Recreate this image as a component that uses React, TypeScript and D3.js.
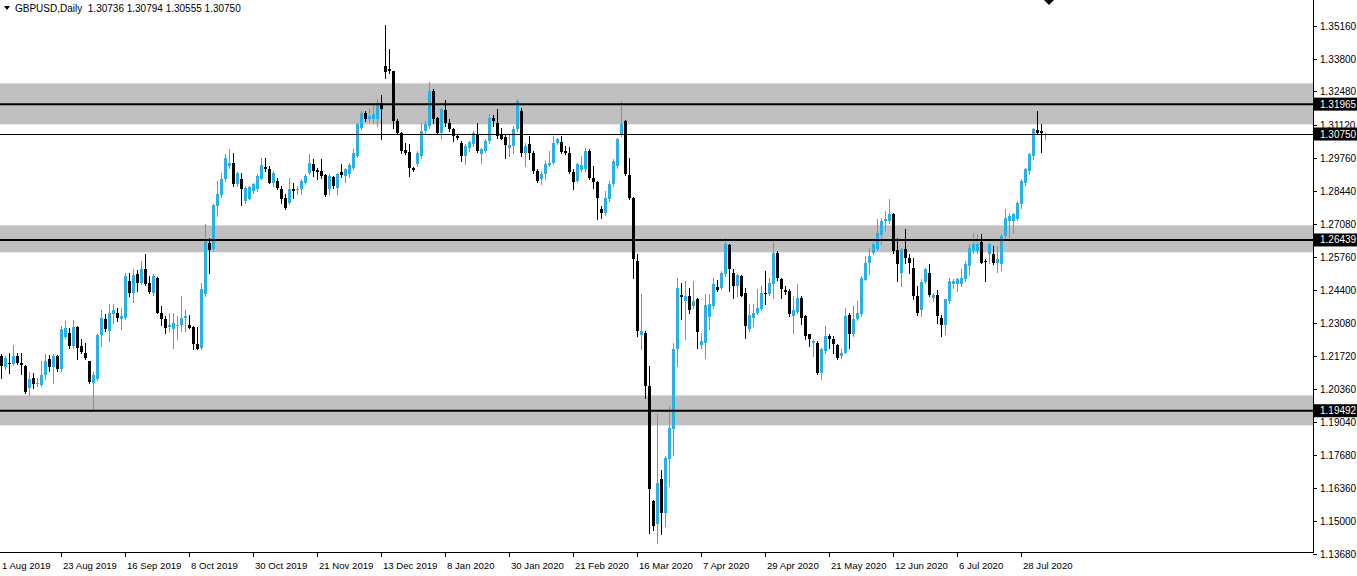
import React from "react";
import * as d3 from "d3";

const WIDTH = 1357;
const HEIGHT = 576;
const PLOT = { RIGHT: 1313, BOTTOM: 552 };
const FONT = "'Liberation Sans', Arial, sans-serif";

const SYMBOL = "GBPUSD,Daily";
const LAST_QUOTE = [1.30736, 1.30794, 1.30555, 1.3075];

const DATE_LABELS = [
  "1 Aug 2019", "23 Aug 2019", "16 Sep 2019", "8 Oct 2019", "30 Oct 2019",
  "21 Nov 2019", "13 Dec 2019", "8 Jan 2020", "30 Jan 2020", "21 Feb 2020",
  "16 Mar 2020", "7 Apr 2020", "29 Apr 2020", "21 May 2020", "12 Jun 2020",
  "6 Jul 2020", "28 Jul 2020",
];
const LABEL_STEP = 16; // bars between date labels

const PRICE_TICKS = [
  1.3516, 1.338, 1.3248, 1.3112, 1.2976, 1.2844, 1.2708, 1.2576, 1.244,
  1.2308, 1.2172, 1.2036, 1.1904, 1.1768, 1.1636, 1.15, 1.1368,
];

// support / resistance zones [low, high]
const ZONES: [number, number][] = [
  [1.31143, 1.32811],
  [1.25935, 1.27033],
  [1.18894, 1.20115],
];
const LEVELS = [1.31965, 1.26439, 1.19492];
const BID = 1.3075;

// daily bars [open, high, low, close], 1 Aug 2019 .. 4 Aug 2020
const CANDLES: [number, number, number, number][] = [
  [1.2172, 1.2180, 1.2083, 1.2131], [1.2128, 1.2172, 1.2117, 1.2165], [1.2144, 1.2185, 1.2104, 1.2138],
  [1.2138, 1.2218, 1.2136, 1.2172], [1.2172, 1.2185, 1.2138, 1.2144], [1.2142, 1.2185, 1.2097, 1.2134],
  [1.2131, 1.2134, 1.2022, 1.2025], [1.2043, 1.2106, 1.2013, 1.2077], [1.2083, 1.2104, 1.2043, 1.2056],
  [1.2056, 1.2083, 1.2050, 1.2063], [1.2052, 1.2151, 1.2050, 1.2093], [1.2093, 1.2178, 1.2077, 1.2150],
  [1.2158, 1.2174, 1.2111, 1.2128], [1.2128, 1.2178, 1.2063, 1.2172], [1.2172, 1.2174, 1.2111, 1.2117],
  [1.2120, 1.2294, 1.2111, 1.2280], [1.2250, 1.2314, 1.2247, 1.2287], [1.2266, 1.2287, 1.2206, 1.2212],
  [1.2212, 1.2317, 1.2206, 1.2290], [1.2290, 1.2294, 1.2158, 1.2206], [1.2212, 1.2239, 1.2185, 1.2188],
  [1.2185, 1.2223, 1.2161, 1.2163], [1.2150, 1.2152, 1.2063, 1.2065], [1.2063, 1.2106, 1.1955, 1.2093],
  [1.2077, 1.2260, 1.2075, 1.2256], [1.2256, 1.2357, 1.2212, 1.2328], [1.2324, 1.2341, 1.2273, 1.2283],
  [1.2273, 1.2385, 1.2233, 1.2345], [1.2341, 1.2382, 1.2307, 1.2361], [1.2345, 1.2368, 1.2314, 1.2328],
  [1.2321, 1.2368, 1.2280, 1.2334], [1.2328, 1.2508, 1.2321, 1.2497], [1.2477, 1.2511, 1.2416, 1.2429],
  [1.2429, 1.2527, 1.2391, 1.2500], [1.2504, 1.2523, 1.2436, 1.2470], [1.2470, 1.2558, 1.2463, 1.2524],
  [1.2524, 1.2585, 1.2461, 1.2463], [1.2470, 1.2497, 1.2429, 1.2432], [1.2429, 1.2504, 1.2422, 1.2497],
  [1.2490, 1.2492, 1.2346, 1.2348], [1.2348, 1.2375, 1.2300, 1.2321], [1.2324, 1.2334, 1.2266, 1.2287],
  [1.2290, 1.2348, 1.2273, 1.2300], [1.2280, 1.2348, 1.2206, 1.2305], [1.2294, 1.2334, 1.2239, 1.2300],
  [1.2296, 1.2416, 1.2273, 1.2328], [1.2328, 1.2357, 1.2273, 1.2334], [1.2300, 1.2337, 1.2285, 1.2287],
  [1.2290, 1.2292, 1.2199, 1.2219], [1.2219, 1.2290, 1.2199, 1.2201], [1.2206, 1.2470, 1.2199, 1.2443],
  [1.2423, 1.2707, 1.2416, 1.2646], [1.2630, 1.2653, 1.2511, 1.2602], [1.2606, 1.2789, 1.2599, 1.2785],
  [1.2782, 1.2884, 1.2741, 1.2829], [1.2825, 1.2918, 1.2820, 1.2893], [1.2890, 1.2992, 1.2884, 1.2979],
  [1.2945, 1.3012, 1.2938, 1.2958], [1.2958, 1.2999, 1.2863, 1.2870], [1.2870, 1.2920, 1.2863, 1.2918],
  [1.2893, 1.2918, 1.2785, 1.2850], [1.2802, 1.2863, 1.2796, 1.2857], [1.2812, 1.2863, 1.2809, 1.2859],
  [1.2843, 1.2877, 1.2836, 1.2870], [1.2853, 1.2911, 1.2843, 1.2904], [1.2893, 1.2979, 1.2890, 1.2947],
  [1.2942, 1.2979, 1.2924, 1.2931], [1.2931, 1.2945, 1.2875, 1.2877], [1.2877, 1.2924, 1.2863, 1.2918],
  [1.2884, 1.2897, 1.2850, 1.2857], [1.2853, 1.2863, 1.2796, 1.2812], [1.2816, 1.2829, 1.2768, 1.2775],
  [1.2796, 1.2897, 1.2789, 1.2853], [1.2853, 1.2877, 1.2816, 1.2843], [1.2847, 1.2863, 1.2829, 1.2853],
  [1.2850, 1.2893, 1.2829, 1.2884], [1.2877, 1.2911, 1.2870, 1.2904], [1.2918, 1.2992, 1.2911, 1.2955],
  [1.2952, 1.2972, 1.2904, 1.2924], [1.2928, 1.2938, 1.2890, 1.2921], [1.2924, 1.2972, 1.2897, 1.2904],
  [1.2907, 1.2911, 1.2823, 1.2825], [1.2850, 1.2911, 1.2829, 1.2904], [1.2901, 1.2904, 1.2857, 1.2863],
  [1.2857, 1.2918, 1.2829, 1.2911], [1.2921, 1.2952, 1.2901, 1.2908], [1.2904, 1.2938, 1.2880, 1.2931],
  [1.2911, 1.2958, 1.2901, 1.2947], [1.2938, 1.3012, 1.2931, 1.2996], [1.2985, 1.3121, 1.2983, 1.3114],
  [1.3101, 1.3169, 1.3094, 1.3162], [1.3162, 1.3169, 1.3128, 1.3135], [1.3135, 1.3182, 1.3128, 1.3148],
  [1.3135, 1.3202, 1.3121, 1.3155], [1.3135, 1.3216, 1.3108, 1.3202], [1.3202, 1.3232, 1.3053, 1.3175],
  [1.3352, 1.3517, 1.3304, 1.3327], [1.3338, 1.3422, 1.3324, 1.3331], [1.3331, 1.3333, 1.3101, 1.3128],
  [1.3128, 1.3135, 1.3074, 1.3080], [1.3080, 1.3082, 1.2999, 1.3006], [1.3009, 1.3040, 1.2992, 1.2999],
  [1.3002, 1.3033, 1.2904, 1.2938], [1.2938, 1.2940, 1.2924, 1.2928], [1.2951, 1.3006, 1.2945, 1.2999],
  [1.2985, 1.3121, 1.2979, 1.3087], [1.3087, 1.3128, 1.3074, 1.3114], [1.3108, 1.3287, 1.3101, 1.3250],
  [1.3250, 1.3257, 1.3121, 1.3135], [1.3141, 1.3143, 1.3074, 1.3080], [1.3080, 1.3182, 1.3060, 1.3175],
  [1.3173, 1.3213, 1.3108, 1.3121], [1.3121, 1.3135, 1.3087, 1.3094], [1.3097, 1.3101, 1.3046, 1.3067],
  [1.3067, 1.3070, 1.3053, 1.3060], [1.3040, 1.3046, 1.2965, 1.2985], [1.2985, 1.3033, 1.2951, 1.3026],
  [1.3019, 1.3046, 1.3006, 1.3042], [1.3033, 1.3087, 1.3026, 1.3080], [1.3074, 1.3118, 1.3002, 1.3006],
  [1.2992, 1.3019, 1.2958, 1.3013], [1.3006, 1.3053, 1.3002, 1.3046], [1.3046, 1.3155, 1.3037, 1.3141],
  [1.3141, 1.3151, 1.3108, 1.3128], [1.3121, 1.3175, 1.3060, 1.3067], [1.3074, 1.3101, 1.3053, 1.3056],
  [1.3063, 1.3074, 1.2979, 1.3029], [1.3019, 1.3074, 1.2985, 1.3029], [1.3026, 1.3108, 1.2999, 1.3094],
  [1.3094, 1.3216, 1.3087, 1.3209], [1.3169, 1.3182, 1.2985, 1.2999], [1.2999, 1.3040, 1.2945, 1.3026],
  [1.3033, 1.3067, 1.2972, 1.2999], [1.2999, 1.3006, 1.2918, 1.2924], [1.2924, 1.2931, 1.2880, 1.2884],
  [1.2890, 1.2924, 1.2870, 1.2911], [1.2911, 1.2965, 1.2893, 1.2952], [1.2947, 1.3006, 1.2945, 1.2958],
  [1.2958, 1.3067, 1.2952, 1.3040], [1.3040, 1.3060, 1.3033, 1.3053], [1.3042, 1.3067, 1.2999, 1.3002],
  [1.3006, 1.3026, 1.2992, 1.2999], [1.2999, 1.3023, 1.2918, 1.2920], [1.2920, 1.2931, 1.2850, 1.2880],
  [1.2884, 1.2958, 1.2880, 1.2952], [1.2928, 1.2985, 1.2924, 1.2947], [1.2931, 1.3019, 1.2924, 1.3006],
  [1.3006, 1.3015, 1.2893, 1.2897], [1.2897, 1.2945, 1.2857, 1.2880], [1.2880, 1.2884, 1.2728, 1.2816],
  [1.2771, 1.2782, 1.2734, 1.2755], [1.2755, 1.2843, 1.2744, 1.2816], [1.2809, 1.2884, 1.2802, 1.2870],
  [1.2870, 1.2972, 1.2863, 1.2965], [1.2945, 1.3060, 1.2938, 1.3053], [1.3074, 1.3209, 1.3067, 1.3114],
  [1.3128, 1.3132, 1.2907, 1.2911], [1.2907, 1.2979, 1.2809, 1.2816], [1.2816, 1.2818, 1.2490, 1.2565],
  [1.2558, 1.2585, 1.2253, 1.2273], [1.2256, 1.2423, 1.2199, 1.2273], [1.2267, 1.2273, 1.2002, 1.2050],
  [1.2050, 1.2131, 1.1453, 1.1629], [1.1581, 1.1588, 1.1466, 1.1480], [1.1487, 1.1934, 1.1412, 1.1656],
  [1.1670, 1.1710, 1.1446, 1.1534], [1.1534, 1.1765, 1.1480, 1.1758], [1.1751, 1.1968, 1.1643, 1.1880],
  [1.1873, 1.2226, 1.1771, 1.2199], [1.2199, 1.2490, 1.2131, 1.2450], [1.2418, 1.2470, 1.2321, 1.2413],
  [1.2395, 1.2477, 1.2239, 1.2416], [1.2416, 1.2450, 1.2348, 1.2361], [1.2375, 1.2477, 1.2368, 1.2395],
  [1.2405, 1.2409, 1.2205, 1.2269], [1.2215, 1.2267, 1.2205, 1.2233], [1.2226, 1.2423, 1.2165, 1.2378],
  [1.2332, 1.2423, 1.2283, 1.2382], [1.2375, 1.2490, 1.2368, 1.2466], [1.2452, 1.2483, 1.2436, 1.2440],
  [1.2450, 1.2517, 1.2443, 1.2508], [1.2504, 1.2653, 1.2497, 1.2626], [1.2622, 1.2626, 1.2436, 1.2524],
  [1.2511, 1.2524, 1.2409, 1.2456], [1.2456, 1.2504, 1.2416, 1.2500], [1.2497, 1.2500, 1.2414, 1.2416],
  [1.2429, 1.2450, 1.2246, 1.2294], [1.2280, 1.2382, 1.2273, 1.2337], [1.2328, 1.2382, 1.2294, 1.2345],
  [1.2348, 1.2443, 1.2341, 1.2368], [1.2364, 1.2456, 1.2359, 1.2429], [1.2429, 1.2517, 1.2382, 1.2423],
  [1.2423, 1.2490, 1.2419, 1.2470], [1.2463, 1.2646, 1.2409, 1.2592], [1.2592, 1.2599, 1.2483, 1.2490],
  [1.2486, 1.2490, 1.2409, 1.2443], [1.2440, 1.2456, 1.2423, 1.2432], [1.2436, 1.2443, 1.2334, 1.2341],
  [1.2334, 1.2416, 1.2267, 1.2361], [1.2351, 1.2463, 1.2345, 1.2409], [1.2409, 1.2416, 1.2301, 1.2328],
  [1.2334, 1.2337, 1.2242, 1.2253], [1.2260, 1.2263, 1.2212, 1.2239], [1.2223, 1.2242, 1.2172, 1.2233],
  [1.2226, 1.2233, 1.2097, 1.2104], [1.2104, 1.2206, 1.2077, 1.2199], [1.2192, 1.2294, 1.2185, 1.2253],
  [1.2253, 1.2260, 1.2206, 1.2239], [1.2239, 1.2253, 1.2185, 1.2219], [1.2215, 1.2219, 1.2158, 1.2165],
  [1.2172, 1.2202, 1.2165, 1.2185], [1.2185, 1.2368, 1.2183, 1.2334], [1.2337, 1.2348, 1.2206, 1.2260],
  [1.2260, 1.2375, 1.2253, 1.2324], [1.2321, 1.2395, 1.2318, 1.2348], [1.2341, 1.2497, 1.2334, 1.2490],
  [1.2483, 1.2578, 1.2481, 1.2551], [1.2551, 1.2612, 1.2504, 1.2578], [1.2592, 1.2646, 1.2585, 1.2626],
  [1.2606, 1.2728, 1.2603, 1.2673], [1.2666, 1.2735, 1.2626, 1.2721], [1.2721, 1.2762, 1.2680, 1.2728],
  [1.2721, 1.2812, 1.2714, 1.2748], [1.2748, 1.2755, 1.2592, 1.2599], [1.2603, 1.2653, 1.2477, 1.2545],
  [1.2511, 1.2612, 1.2456, 1.2608], [1.2606, 1.2687, 1.2551, 1.2572], [1.2572, 1.2585, 1.2511, 1.2551],
  [1.2531, 1.2572, 1.2402, 1.2416], [1.2416, 1.2456, 1.2337, 1.2348], [1.2361, 1.2484, 1.2334, 1.2473],
  [1.2473, 1.2531, 1.2467, 1.2524], [1.2511, 1.2545, 1.2416, 1.2422], [1.2409, 1.2429, 1.2395, 1.2418],
  [1.2422, 1.2440, 1.2307, 1.2334], [1.2328, 1.2337, 1.2253, 1.2296], [1.2300, 1.2405, 1.2260, 1.2402],
  [1.2395, 1.2490, 1.2389, 1.2477], [1.2463, 1.2486, 1.2450, 1.2477], [1.2463, 1.2490, 1.2436, 1.2484],
  [1.2463, 1.2524, 1.2456, 1.2490], [1.2484, 1.2558, 1.2477, 1.2545], [1.2538, 1.2626, 1.2504, 1.2612],
  [1.2599, 1.2673, 1.2592, 1.2626], [1.2599, 1.2667, 1.2592, 1.2626], [1.2636, 1.2667, 1.2549, 1.2551],
  [1.2558, 1.2565, 1.2477, 1.2554], [1.2585, 1.2633, 1.2551, 1.2626], [1.2585, 1.2619, 1.2545, 1.2551],
  [1.2551, 1.2619, 1.2513, 1.2565], [1.2545, 1.2667, 1.2521, 1.2660], [1.2660, 1.2768, 1.2646, 1.2734],
  [1.2721, 1.2755, 1.2646, 1.2741], [1.2721, 1.2755, 1.2673, 1.2748], [1.2728, 1.2802, 1.2725, 1.2796],
  [1.2789, 1.2890, 1.2775, 1.2884], [1.2877, 1.2938, 1.2866, 1.2934], [1.2924, 1.2999, 1.2911, 1.2992],
  [1.2985, 1.3101, 1.2975, 1.3094], [1.3091, 1.3169, 1.3074, 1.3080], [1.3087, 1.3114, 1.3002, 1.3080],
  [1.30736, 1.30794, 1.30555, 1.3075],
];

const BULL = "#27b2e6";
const BEAR = "#000000";

const App: React.FC = () => {
  const n = CANDLES.length;
  // 4px per bar, first bar centred at x = 1
  const xScale = d3.scaleLinear().domain([0, n - 1]).range([1, 1 + 4 * (n - 1)]);
  const yScale = d3
    .scaleLinear()
    .domain([d3.min(PRICE_TICKS)!, d3.max(PRICE_TICKS)!])
    .range([553.6, 25.6]);

  const bidY = Math.round(yScale(BID)) + 0.5;

  return (
    <svg
      width={WIDTH}
      height={HEIGHT}
      style={{ position: "absolute", left: 0, top: 0, background: "#fff" }}
      fontFamily={FONT}
    >
      <rect x={0} y={0} width={WIDTH} height={HEIGHT} fill="#fff" />

      {/* zones */}
      {ZONES.map(([lo, hi], i) => (
        <rect
          key={"z" + i}
          x={0}
          y={yScale(hi)}
          width={PLOT.RIGHT}
          height={yScale(lo) - yScale(hi)}
          fill="#c0c0c0"
        />
      ))}

      {/* candles */}
      {CANDLES.map(([o, h, l, c], i) => {
        const cx = Math.round(xScale(i));
        const up = c >= o;
        const color = up ? BULL : BEAR;
        const top = Math.round(yScale(Math.max(o, c)));
        const bot = Math.round(yScale(Math.min(o, c)));
        return (
          <g key={"c" + i}>
            <line
              x1={cx + 0.5}
              x2={cx + 0.5}
              y1={Math.round(yScale(h))}
              y2={Math.round(yScale(l)) + 1}
              stroke={color}
              strokeWidth={1}
            />
            <rect x={cx - 1} y={top} width={3} height={Math.max(1, bot - top)} fill={color} />
          </g>
        );
      })}

      {/* horizontal levels */}
      {LEVELS.map((v, i) => (
        <line
          key={"l" + i}
          x1={0}
          x2={PLOT.RIGHT}
          y1={yScale(v)}
          y2={yScale(v)}
          stroke="#000"
          strokeWidth={2}
        />
      ))}
      <line x1={0} x2={PLOT.RIGHT} y1={bidY} y2={bidY} stroke="#000" strokeWidth={1} />

      {/* frame */}
      <line x1={PLOT.RIGHT + 0.5} x2={PLOT.RIGHT + 0.5} y1={0} y2={PLOT.BOTTOM} stroke="#000" />
      <line x1={0} x2={PLOT.RIGHT + 1} y1={PLOT.BOTTOM + 0.5} y2={PLOT.BOTTOM + 0.5} stroke="#000" />

      {/* price axis */}
      {PRICE_TICKS.map((v, i) => {
        const y = Math.round(yScale(v)) + 0.5;
        return (
          <g key={"p" + i}>
            <line x1={PLOT.RIGHT} x2={PLOT.RIGHT + 4} y1={y} y2={y} stroke="#000" />
            <text x={PLOT.RIGHT + 7} y={y} dy="0.35em" fontSize={10} fill="#000">
              {v.toFixed(5)}
            </text>
          </g>
        );
      })}

      {[...LEVELS, BID].map((v, i) => {
        const y = yScale(v);
        return (
          <g key={"b" + i}>
            <rect x={PLOT.RIGHT + 1} y={y - 6.5} width={WIDTH - PLOT.RIGHT - 1} height={13} fill="#000" />
            <text x={PLOT.RIGHT + 7} y={y} dy="0.35em" fontSize={10} fill="#fff">
              {v.toFixed(5)}
            </text>
          </g>
        );
      })}

      {/* date axis: tick sits a bar to the left of the labelled bar */}
      {DATE_LABELS.map((d, k) => {
        const x = Math.max(0, Math.round(xScale(k * LABEL_STEP - 1))) + 0.5;
        return (
          <g key={"d" + k}>
            {k > 0 && <line x1={x} x2={x} y1={PLOT.BOTTOM} y2={PLOT.BOTTOM + 5} stroke="#000" />}
            <text x={x + 1.5} y={569} fontSize={9.6} fill="#000">
              {d}
            </text>
          </g>
        );
      })}

      {/* header */}
      <polygon points="4,6 10,6 7,10" fill="#000" />
      <text x={15} y={12} fontSize={10} fill="#000" style={{ whiteSpace: "pre" }}>
        {SYMBOL + "  " + LAST_QUOTE.map((v) => v.toFixed(5)).join(" ")}
      </text>

      {/* chart shift marker */}
      <polygon
        points={`${xScale(n - 1) - 1},0 ${xScale(n - 1) + 9},0 ${xScale(n - 1) + 4},5`}
        fill="#000"
      />
    </svg>
  );
};

export default App;
